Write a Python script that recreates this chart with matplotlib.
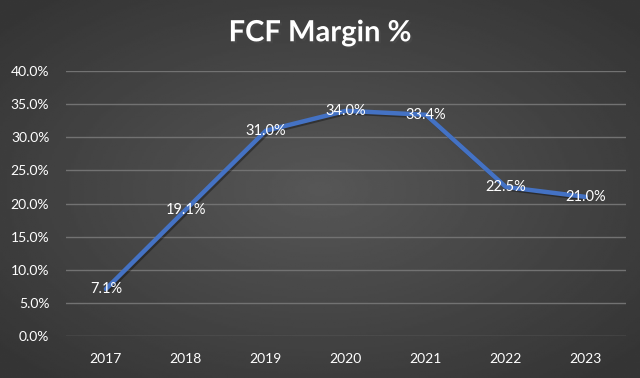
import matplotlib.pyplot as plt
import matplotlib.patheffects as pe
import numpy as np

years = ['2017', '2018', '2019', '2020', '2021', '2022', '2023']
fcf_margin = [7.1, 19.1, 31.0, 34.0, 33.4, 22.5, 21.0]
y_ticks = [0, 5, 10, 15, 20, 25, 30, 35, 40]

plt.rcParams['font.family'] = ['Lato', 'DejaVu Sans']

fig = plt.figure(figsize=(6.4, 3.78), dpi=100)

# radial grey background like the Excel chart style
bg = fig.add_axes([0, 0, 1, 1], zorder=-10)
yy, xx = np.mgrid[-1:1:200j, -1:1:300j]
r = np.sqrt(xx ** 2 + yy ** 2)
bg.imshow(0.34 - 0.13 * np.clip(r / 1.3, 0, 1), cmap='gray', vmin=0, vmax=1,
          aspect='auto', extent=[0, 1, 0, 1])
bg.axis('off')

ax = fig.add_axes([0.103, 0.111, 0.875, 0.701])
ax.patch.set_alpha(0)

x = np.arange(len(years))
ax.plot(x, fcf_margin, color='#4472C4', lw=3.2, solid_capstyle='round', zorder=3,
        path_effects=[pe.SimpleLineShadow(offset=(1.2, -1.2), alpha=0.35), pe.Normal()])

for xi, v in zip(x, fcf_margin):
    ax.text(xi, v, f'{v:.1f}%', color='white', fontsize=10.5, ha='center', va='center', zorder=4)

ax.set_xlim(-0.5, len(years) - 0.5)
ax.set_ylim(0, 40)
ax.set_xticks(x)
ax.set_xticklabels(years)
ax.set_yticks(y_ticks)
ax.set_yticklabels([f'{t:.1f}%' for t in y_ticks])
ax.tick_params(colors='white', labelsize=10, length=0, pad=12)
ax.yaxis.grid(True, color='#727272', lw=1)
ax.set_axisbelow(True)
for s in ax.spines.values():
    s.set_visible(False)

fig.text(0.5, 0.912, 'FCF Margin %', color='white', fontsize=21, fontweight='bold',
         ha='center', va='center',
         path_effects=[pe.withSimplePatchShadow(offset=(1.5, -1.5), alpha=0.6)])

fig.savefig('out.png', dpi=100)
